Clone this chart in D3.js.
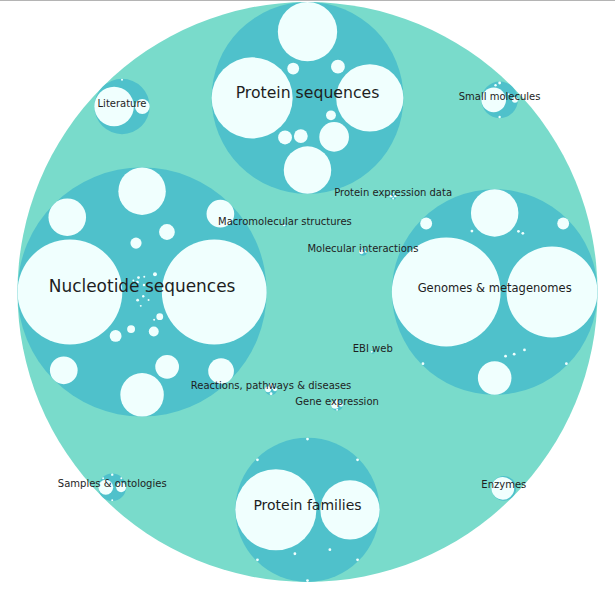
<!DOCTYPE html>
<html>
<head>
<meta charset="utf-8">
<script src="https://cdn.jsdelivr.net/npm/d3@7"></script>
<style>
  body { margin: 0; background: #fff; }
  svg { display: block; }
  .topline { position: absolute; left: 0; top: 0; width: 615px; height: 1px; background: #b4b4b4; }
  text { font-family: "DejaVu Sans", Verdana, sans-serif; fill: #1e1e1e; }
</style>
</head>
<body>
<div class="topline"></div>
<svg id="chart" width="615" height="590"></svg>
<script>
// categories and their sizes (area units)
const categories = [
  "Nucleotide sequences", "Genomes & metagenomes", "Protein sequences", "Protein families",
  "Literature", "Small molecules", "Samples & ontologies", "Enzymes",
  "EBI web", "Reactions, pathways & diseases", "Protein expression data",
  "Gene expression", "Macromolecular structures", "Molecular interactions"
];
const categorySizes = [15876, 10816, 9409, 5329, 784, 342, 196, 156, 4, 36, 12, 36, 5, 16];

// resources inside each category (area units)
const nucleotideLeaves = [2809, 2809, 576, 484, 361, 196, 196, 169, 25, 2, 64, 144, 2, 1.5, 36, 32, 12, 1.5, 4, 1, 1, 1, 16, 1, 1, 2];
const genomeLeaves = [3025, 2116, 576, 289, 36, 36, 2, 2, 2, 2, 2, 2, 2, 2];
const proteinSeqLeaves = [1681, 1156, 900, 225, 576, 49, 49, 36, 25, 49];
const proteinFamilyLeaves = [1681, 900, 2, 2, 2, 2, 2, 2, 2, 2];
const literatureLeaves = [400, 56, 1];
const smallMoleculeLeaves = [156, 9, 2, 1.5, 1.5, 1];
const sampleLeaves = [56, 25, 1.5, 1, 1, 1];
const enzymeLeaves = [132];
const webLeaves = [1];
const reactionLeaves = [9, 4, 4, 2, 1, 1];
const proteinExpressionLeaves = [2, 1.5, 1, 1];
const geneExpressionLeaves = [16, 4, 2, 1];
const structureLeaves = [2];
const interactionLeaves = [6, 1, 1];

const leafSizes = [
  nucleotideLeaves, genomeLeaves, proteinSeqLeaves, proteinFamilyLeaves,
  literatureLeaves, smallMoleculeLeaves, sampleLeaves, enzymeLeaves,
  webLeaves, reactionLeaves, proteinExpressionLeaves,
  geneExpressionLeaves, structureLeaves, interactionLeaves
];

const width = 615, height = 590;
const cx = width / 2, cy = 292, outerR = 290;

const svg = d3.select("#chart");

// parent area is twice the sum of its children
const rootSize = 2 * d3.sum(categorySizes);
const r = d3.scaleSqrt().domain([0, rootSize]).range([0, outerR]);

// ring slots: biggest left, next right, then top, bottom, then the diagonals
const slotAngle = d3.scaleOrdinal()
  .domain(d3.range(8))
  .range([180, 0, 90, 270, 135, 45, 225, 315]);

function slotPos(i, R, rad) {
  const a = slotAngle(i) * Math.PI / 180;
  return [(R - rad) * Math.cos(a), -(R - rad) * Math.sin(a)];
}

// 8 biggest go on the rim, the rest settle inside with a small force run
function ringLayout(items, R, opt) {
  const ranked = items.slice().sort((a, b) => b.r - a.r);
  const placed = [];
  const put = (d, i) => {
    const [x, y] = slotPos(i, R, d.r);
    d.x = d.fx = x;
    d.y = d.fy = y;
    placed.push(d);
  };
  ranked.slice(0, 4).forEach(put);

  const diag = ranked.slice(4, 8);
  const fits = diag.every((d, j) => {
    const [x, y] = slotPos(j + 4, R, d.r);
    return placed.every(p => Math.hypot(p.x - x, p.y - y) >= p.r + d.r + opt.pad);
  });
  if (fits) diag.forEach((d, j) => put(d, j + 4));

  const rest = items.filter(d => d.fx === undefined);
  if (rest.length) {
    const maxR = d3.max(rest, d => d.r);
    const free = d => d.fx === undefined;
    d3.forceSimulation(items)
      .force("collide", d3.forceCollide(d => d.r + (free(d) ? opt.gap : opt.pad)).iterations(2))
      .force("ring", d3.forceRadial(opt.f * R, 0, 0)
        .strength(d => free(d) ? opt.s * Math.pow(d.r / maxR, opt.e) : 0))
      .force("x", d3.forceX(0).strength(d => free(d) ? opt.pull : 0))
      .force("y", d3.forceY(0).strength(d => free(d) ? opt.pull : 0))
      .force("inside", () => {
        rest.forEach(d => {
          const m = R - d.r - opt.pad, h = Math.hypot(d.x, d.y);
          if (h > m) { d.x *= m / h; d.y *= m / h; }
        });
      })
      .stop()
      .tick(200);
  }
  items.forEach(d => { delete d.fx; delete d.fy; });
  return items;
}

const catNodes = categories.map((name, i) => ({
  name,
  r: r(categorySizes[i]),
  leaves: leafSizes[i].map(v => ({ r: r(v) }))
}));

// labels need room, so the small categories keep a wide gap
ringLayout(catNodes, outerR, { pad: 3, f: 0.38, s: 0.05, gap: 28, pull: 0, e: 0 });

const leafOpt = { f: 0.76, s: 0.1, gap: 1, pull: 0.02, e: 2 };
const tightLeafOpt = { f: 0.52, s: 0.3, gap: 1, pull: 0.02, e: 1 }; // protein sequences

catNodes.forEach((c, i) => {
  const pad = Math.min(3, c.r / 20);
  const o = i === 2 ? tightLeafOpt : leafOpt;
  ringLayout(c.leaves, c.r, Object.assign({}, o, { pad, gap: o.gap * pad / 3 }));
});

// draw
const g = svg.append("g").attr("transform", `translate(${cx},${cy})`);

g.append("circle")
  .attr("r", outerR)
  .attr("fill", "#79dbcb");

const cat = g.selectAll("g.cat")
  .data(catNodes)
  .enter()
  .append("g")
  .attr("class", "cat")
  .attr("transform", d => `translate(${d.x},${d.y})`);

cat.append("circle")
  .attr("r", d => d.r)
  .attr("fill", "#4fc1cb");

cat.selectAll("circle.leaf")
  .data(d => d.leaves)
  .enter()
  .append("circle")
  .attr("class", "leaf")
  .attr("cx", d => d.x)
  .attr("cy", d => d.y)
  .attr("r", d => d.r)
  .attr("fill", "#f0fffe");

const labels = g.selectAll("text.label")
  .data(catNodes)
  .enter()
  .append("text")
  .attr("class", "label")
  .attr("x", d => d.x)
  .attr("y", d => d.y)
  .attr("text-anchor", "middle")
  .style("font-size", "10px")
  .text(d => d.name);

// fit the label to ~3/4 of the circle width, never under 10px
labels.each(function (d) {
  const len = this.getComputedTextLength();
  const size = Math.max(10, 10 * 1.5 * d.r / len);
  d3.select(this).style("font-size", `${size}px`);
});
</script>
</body>
</html>
